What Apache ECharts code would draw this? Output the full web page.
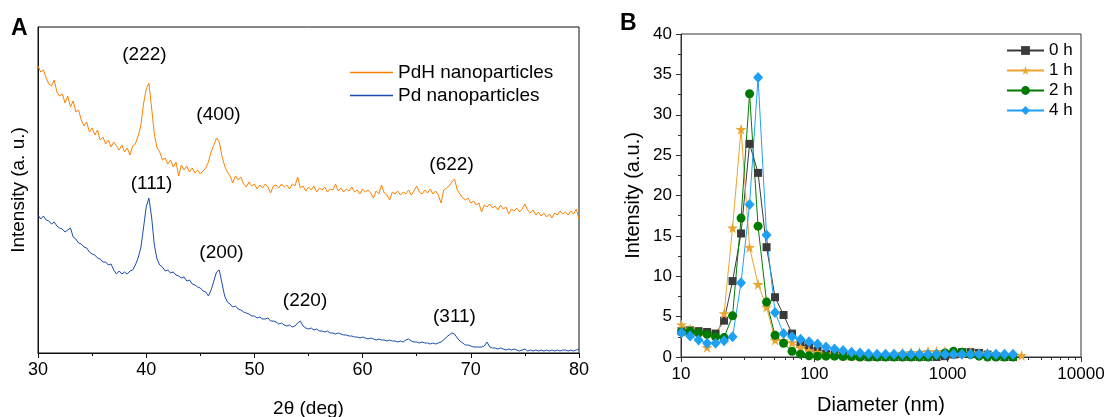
<!DOCTYPE html>
<html><head><meta charset="utf-8">
<script src="https://cdn.jsdelivr.net/npm/echarts@6/dist/echarts.min.js"></script>
<style>html,body{margin:0;padding:0;background:#fff}#c{width:1107px;height:417px}</style>
</head><body><div id="c"></div>
<script>
const FONT = '"Liberation Sans", Arial, Helvetica, sans-serif';

// ---------- Panel A: XRD (2theta sampled every 0.25 deg from 30 to 80) ----------
const xrdStart = 30, xrdStep = 0.25;
const pdhIntensity = [
287,281,283,275,269,267,273,261,257,259,250,257,246,252,241,243,233,227,231,221,
225,218,223,213,216,209,213,206,211,207,203,208,201,205,198,207,209,217,227,249,
264,270,245,219,205,201,193,195,189,193,186,191,177,188,183,187,181,185,180,183,
179,182,185,191,201,208,215,211,197,187,181,177,170,177,173,176,169,166,171,167,
169,164,168,165,169,166,160,167,168,165,169,166,168,164,169,167,176,165,167,162,
166,163,167,161,165,163,166,161,164,163,169,162,165,161,164,162,166,161,163,159,
164,161,163,160,155,162,159,168,160,158,153,161,159,162,158,161,159,163,158,162,
167,161,159,163,160,164,159,162,158,150,163,165,167,171,174,163,159,155,153,155,
150,152,148,150,141,148,146,149,145,147,143,148,144,146,139,144,142,145,141,144,
149,143,140,143,138,141,137,140,136,139,135,140,138,142,139,141,138,142,139,144,
134];
const pdIntensity = [
138,134,137,133,132,129,131,127,125,124,121,123,125,116,114,110,109,106,105,101,
99,98,95,94,91,91,88,89,83,79,82,79,81,79,82,83,88,95,105,125,
146,155,136,108,94,88,86,82,83,80,81,78,77,75,76,72,73,69,68,66,
65,62,61,57,63,72,81,83,70,57,51,49,46,47,44,43,41,40,39,37,
37,35,36,34,34,35,32,32,31,29,30,28,27,28,26,27,30,32,27,25,
24,25,23,24,22,22,21,22,20,20,19,20,19,18,18,17,17,16,16,15,
16,15,14,15,14,13,14,13,13,12,13,12,12,11,12,11,13,14,12,11,
11,10,11,10,10,9,10,9,10,11,13,16,18,20,19,15,12,10,8,8,
7,6,6,6,6,7,11,6,5,5,4,5,4,3,4,3,4,3,2,3,
4,2,3,2,3,2,3,2,3,2,3,2,3,2,3,3,2,3,2,3,
4];
const xrdPeakText = ['(222)', '(400)', '(622)', '(111)', '(200)', '(220)', '(311)'];
const xrdPeakAt2T = [39.84, 46.68, 68.22, 40.49, 46.96, 54.68, 68.49];
const xrdPeakAtI  = [298, 238, 188, 169.5, 100.5, 52.5, 36.5];

// ---------- Panel B: DLS ----------
const dlsDiameter = [10.1, 11.7, 13.54, 15.69, 18.17, 21.04, 24.36, 28.21, 32.67, 37.84, 43.82, 50.75, 58.77, 68.06,
  78.82, 91.28, 105.7, 122.4, 141.8, 164.2, 190.1, 220.2, 255.0, 295.3, 342.0, 396.1, 458.7, 531.2, 615.1, 712.4,
  825.0, 955.4, 1106, 1281, 1484, 1718, 1990, 2305, 2669, 3091, 3580];
const dls0h = [3.2, 3.3, 3.2, 3.1, 2.9, 4.5, 9.4, 15.3, 26.4, 22.8, 13.6, 7.4, 5.2, 2.9, 1.6, 1.2, 0.8, 0.4, 0.3, 0.2,
  0.1, 0.1, 0, 0, 0, 0, 0, 0, 0, 0, 0, 0.1, 0.3, 0.6, 0.6, 0.5, 0.3, 0.1, 0, 0, null];
const dls1h = [4.0, 3.5, 2.6, 1.2, 2.3, 5.4, 16.0, 28.2, 13.6, 9.0, 6.2, 2.1, 2.0, 1.8, 1.2, 0.8, 0.6, 0.4, 0.3, 0.2,
  0.2, 0.1, 0.1, 0.2, 0.3, 0.4, 0.5, 0.6, 0.6, 0.7, 0.7, 0.7, 0.6, 0.5, 0.6, 0.5, 0.5, 0.4, 0.3, 0.3, 0.2];
const dls2h = [3.1, 3.2, 3.0, 2.8, 2.5, 2.4, 5.1, 17.2, 32.6, 16.2, 6.8, 2.7, 1.7, 0.7, 0.35, 0.15, 0.1, 0.1, 0.1, 0.05,
  0.05, 0, 0, 0, 0, 0, 0, 0, 0, 0, 0.2, 0.5, 0.7, 0.6, 0.3, 0.1, 0, 0, 0, 0, null];
const dls4h = [3.0, 2.6, 2.1, 1.7, 1.7, 2.0, 2.5, 9.2, 18.9, 34.6, 15.1, 5.5, 2.9, 2.5, 2.2, 1.9, 1.6, 1.25, 1.0, 0.8,
  0.6, 0.5, 0.4, 0.35, 0.33, 0.33, 0.33, 0.33, 0.33, 0.33, 0.33, 0.33, 0.33, 0.33, 0.33, 0.33, 0.33, 0.33, 0.33, 0.33, null];
const dlsMinorTicks = [20, 30, 40, 50, 60, 70, 80, 90, 200, 300, 400, 500, 600, 700, 800, 900,
  2000, 3000, 4000, 5000, 6000, 7000, 8000, 9000];

// ---------- build ----------
const xrdPairs = arr => arr.map((v, i) => [xrdStart + i * xrdStep, v]);
const dlsPairs = arr => dlsDiameter.map((d, i) => [d, arr[i]]).filter(p => p[1] !== null);
const peakData = xrdPeakText.map((t, i) => ({ name: t, value: [xrdPeakAt2T[i], xrdPeakAtI[i]] }));

const starPath = 'path://M50,0 L61,35 L98,35 L68,57 L79,91 L50,70 L21,91 L32,57 L2,35 L39,35 Z';
const black = '#000';

const option = {
  animation: false,
  textStyle: { fontFamily: FONT },
  grid: [
    { left: 38, top: 27, width: 541, height: 326, show: true, borderColor: '#111', borderWidth: 1, containLabel: false, outerBoundsMode: 'none' },
    { left: 681, top: 34, width: 400, height: 323, show: true, borderColor: '#333', borderWidth: 1, containLabel: false, outerBoundsMode: 'none' }
  ],
  xAxis: [
    { gridIndex: 0, type: 'value', min: 30, max: 80, interval: 10,
      axisLine: { onZero: false, lineStyle: { color: '#111', width: 1 } },
      axisTick: { show: true, length: 5, lineStyle: { color: '#111' } },
      minorTick: { show: true, splitNumber: 2, length: 3, lineStyle: { color: '#111' } },
      splitLine: { show: false },
      axisLabel: { fontSize: 18, color: black, margin: 8, fontFamily: FONT, formatter: v => String(v) },
      name: '2θ (deg)', nameLocation: 'middle', nameGap: 46,
      nameTextStyle: { fontSize: 19, color: black, fontFamily: FONT } },
    { gridIndex: 1, type: 'log', logBase: 10, min: 10, max: 10000,
      axisLine: { onZero: false, lineStyle: { color: '#333', width: 1 } },
      axisTick: { show: true, length: 5, lineStyle: { color: '#333' } },
      splitLine: { show: false },
      axisLabel: { fontSize: 17, color: black, margin: 9, fontFamily: FONT, formatter: v => String(v) },
      name: 'Diameter (nm)', nameLocation: 'middle', nameGap: 38,
      nameTextStyle: { fontSize: 20, color: black, fontFamily: FONT } },
    { gridIndex: 1, type: 'log', logBase: 10, min: 10, max: 10000, position: 'bottom',
      axisLine: { show: false, onZero: false },
      axisTick: { show: true, length: 3, customValues: dlsMinorTicks, lineStyle: { color: '#333' } },
      axisLabel: { show: false },
      splitLine: { show: false } }
  ],
  yAxis: [
    { gridIndex: 0, type: 'value', min: 0, max: 326,
      axisLine: { show: true, onZero: false, lineStyle: { color: '#111', width: 1 } },
      axisTick: { show: false }, axisLabel: { show: false }, splitLine: { show: false },
      name: 'Intensity (a. u.)', nameLocation: 'middle', nameGap: 10,
      nameTextStyle: { fontSize: 19, color: black, fontFamily: FONT } },
    { gridIndex: 1, type: 'value', min: 0, max: 40, interval: 5,
      axisLine: { show: true, onZero: false, lineStyle: { color: '#333', width: 1 } },
      axisTick: { show: true, length: 5, lineStyle: { color: '#333' } },
      minorTick: { show: true, splitNumber: 2, length: 3, lineStyle: { color: '#333' } },
      splitLine: { show: false },
      axisLabel: { fontSize: 17, color: black, margin: 9, fontFamily: FONT },
      name: 'Intensity (a.u.)', nameLocation: 'middle', nameGap: 38,
      nameTextStyle: { fontSize: 20, color: black, fontFamily: FONT } }
  ],
  legend: [
    { data: ['PdH nanoparticles', 'Pd nanoparticles'], orient: 'vertical', left: 345, top: 58,
      icon: 'rect', itemWidth: 43, itemHeight: 1.5, itemGap: 4,
      textStyle: { fontSize: 19, color: black, fontFamily: FONT, lineHeight: 19 } },
    { data: ['0 h', '1 h', '2 h', '4 h'], orient: 'vertical', left: 1001, top: 37,
      itemWidth: 37, itemHeight: 11, itemGap: 3,
      textStyle: { fontSize: 17, color: black, fontFamily: FONT, lineHeight: 17 } }
  ],
  graphic: [
    { type: 'text', left: 11, top: 17, style: { text: 'A', font: 'bold 23px ' + FONT, fill: '#000' } },
    { type: 'text', left: 620, top: 12, style: { text: 'B', font: 'bold 23px ' + FONT, fill: '#000' } }
  ],
  series: [
    { name: 'PdH nanoparticles', type: 'line', xAxisIndex: 0, yAxisIndex: 0, data: xrdPairs(pdhIntensity),
      showSymbol: false, symbol: 'none', lineStyle: { width: 1, color: '#ff8000' }, itemStyle: { color: '#ff8000' } },
    { name: 'Pd nanoparticles', type: 'line', xAxisIndex: 0, yAxisIndex: 0, data: xrdPairs(pdIntensity),
      showSymbol: false, symbol: 'none', lineStyle: { width: 1, color: '#1a4cb0' }, itemStyle: { color: '#1a4cb0' } },
    { name: 'peaks', type: 'scatter', xAxisIndex: 0, yAxisIndex: 0, data: peakData, symbolSize: 1, silent: true,
      itemStyle: { color: 'rgba(0,0,0,0)', opacity: 1 },
      label: { show: true, position: 'inside', formatter: '{b}', fontSize: 19, color: '#000', opacity: 1, fontFamily: FONT } },
    { name: '0 h', type: 'line', xAxisIndex: 1, yAxisIndex: 1, data: dlsPairs(dls0h),
      symbol: 'rect', symbolSize: 8, lineStyle: { width: 1, color: '#3a3a3a' }, itemStyle: { color: '#3a3a3a' } },
    { name: '1 h', type: 'line', xAxisIndex: 1, yAxisIndex: 1, data: dlsPairs(dls1h),
      symbol: starPath, symbolSize: 11, lineStyle: { width: 1, color: '#e8a630' }, itemStyle: { color: '#e8a630' } },
    { name: '2 h', type: 'line', xAxisIndex: 1, yAxisIndex: 1, data: dlsPairs(dls2h),
      symbol: 'circle', symbolSize: 9, lineStyle: { width: 1, color: '#007a00' }, itemStyle: { color: '#007a00' } },
    { name: '4 h', type: 'line', xAxisIndex: 1, yAxisIndex: 1, data: dlsPairs(dls4h),
      symbol: 'diamond', symbolSize: [10, 11], lineStyle: { width: 1, color: '#1ea0f5' }, itemStyle: { color: '#1ea0f5' } }
  ]
};

const chart = echarts.init(document.getElementById('c'), null, { renderer: 'canvas' });
chart.setOption(option);
</script>
</body></html>
